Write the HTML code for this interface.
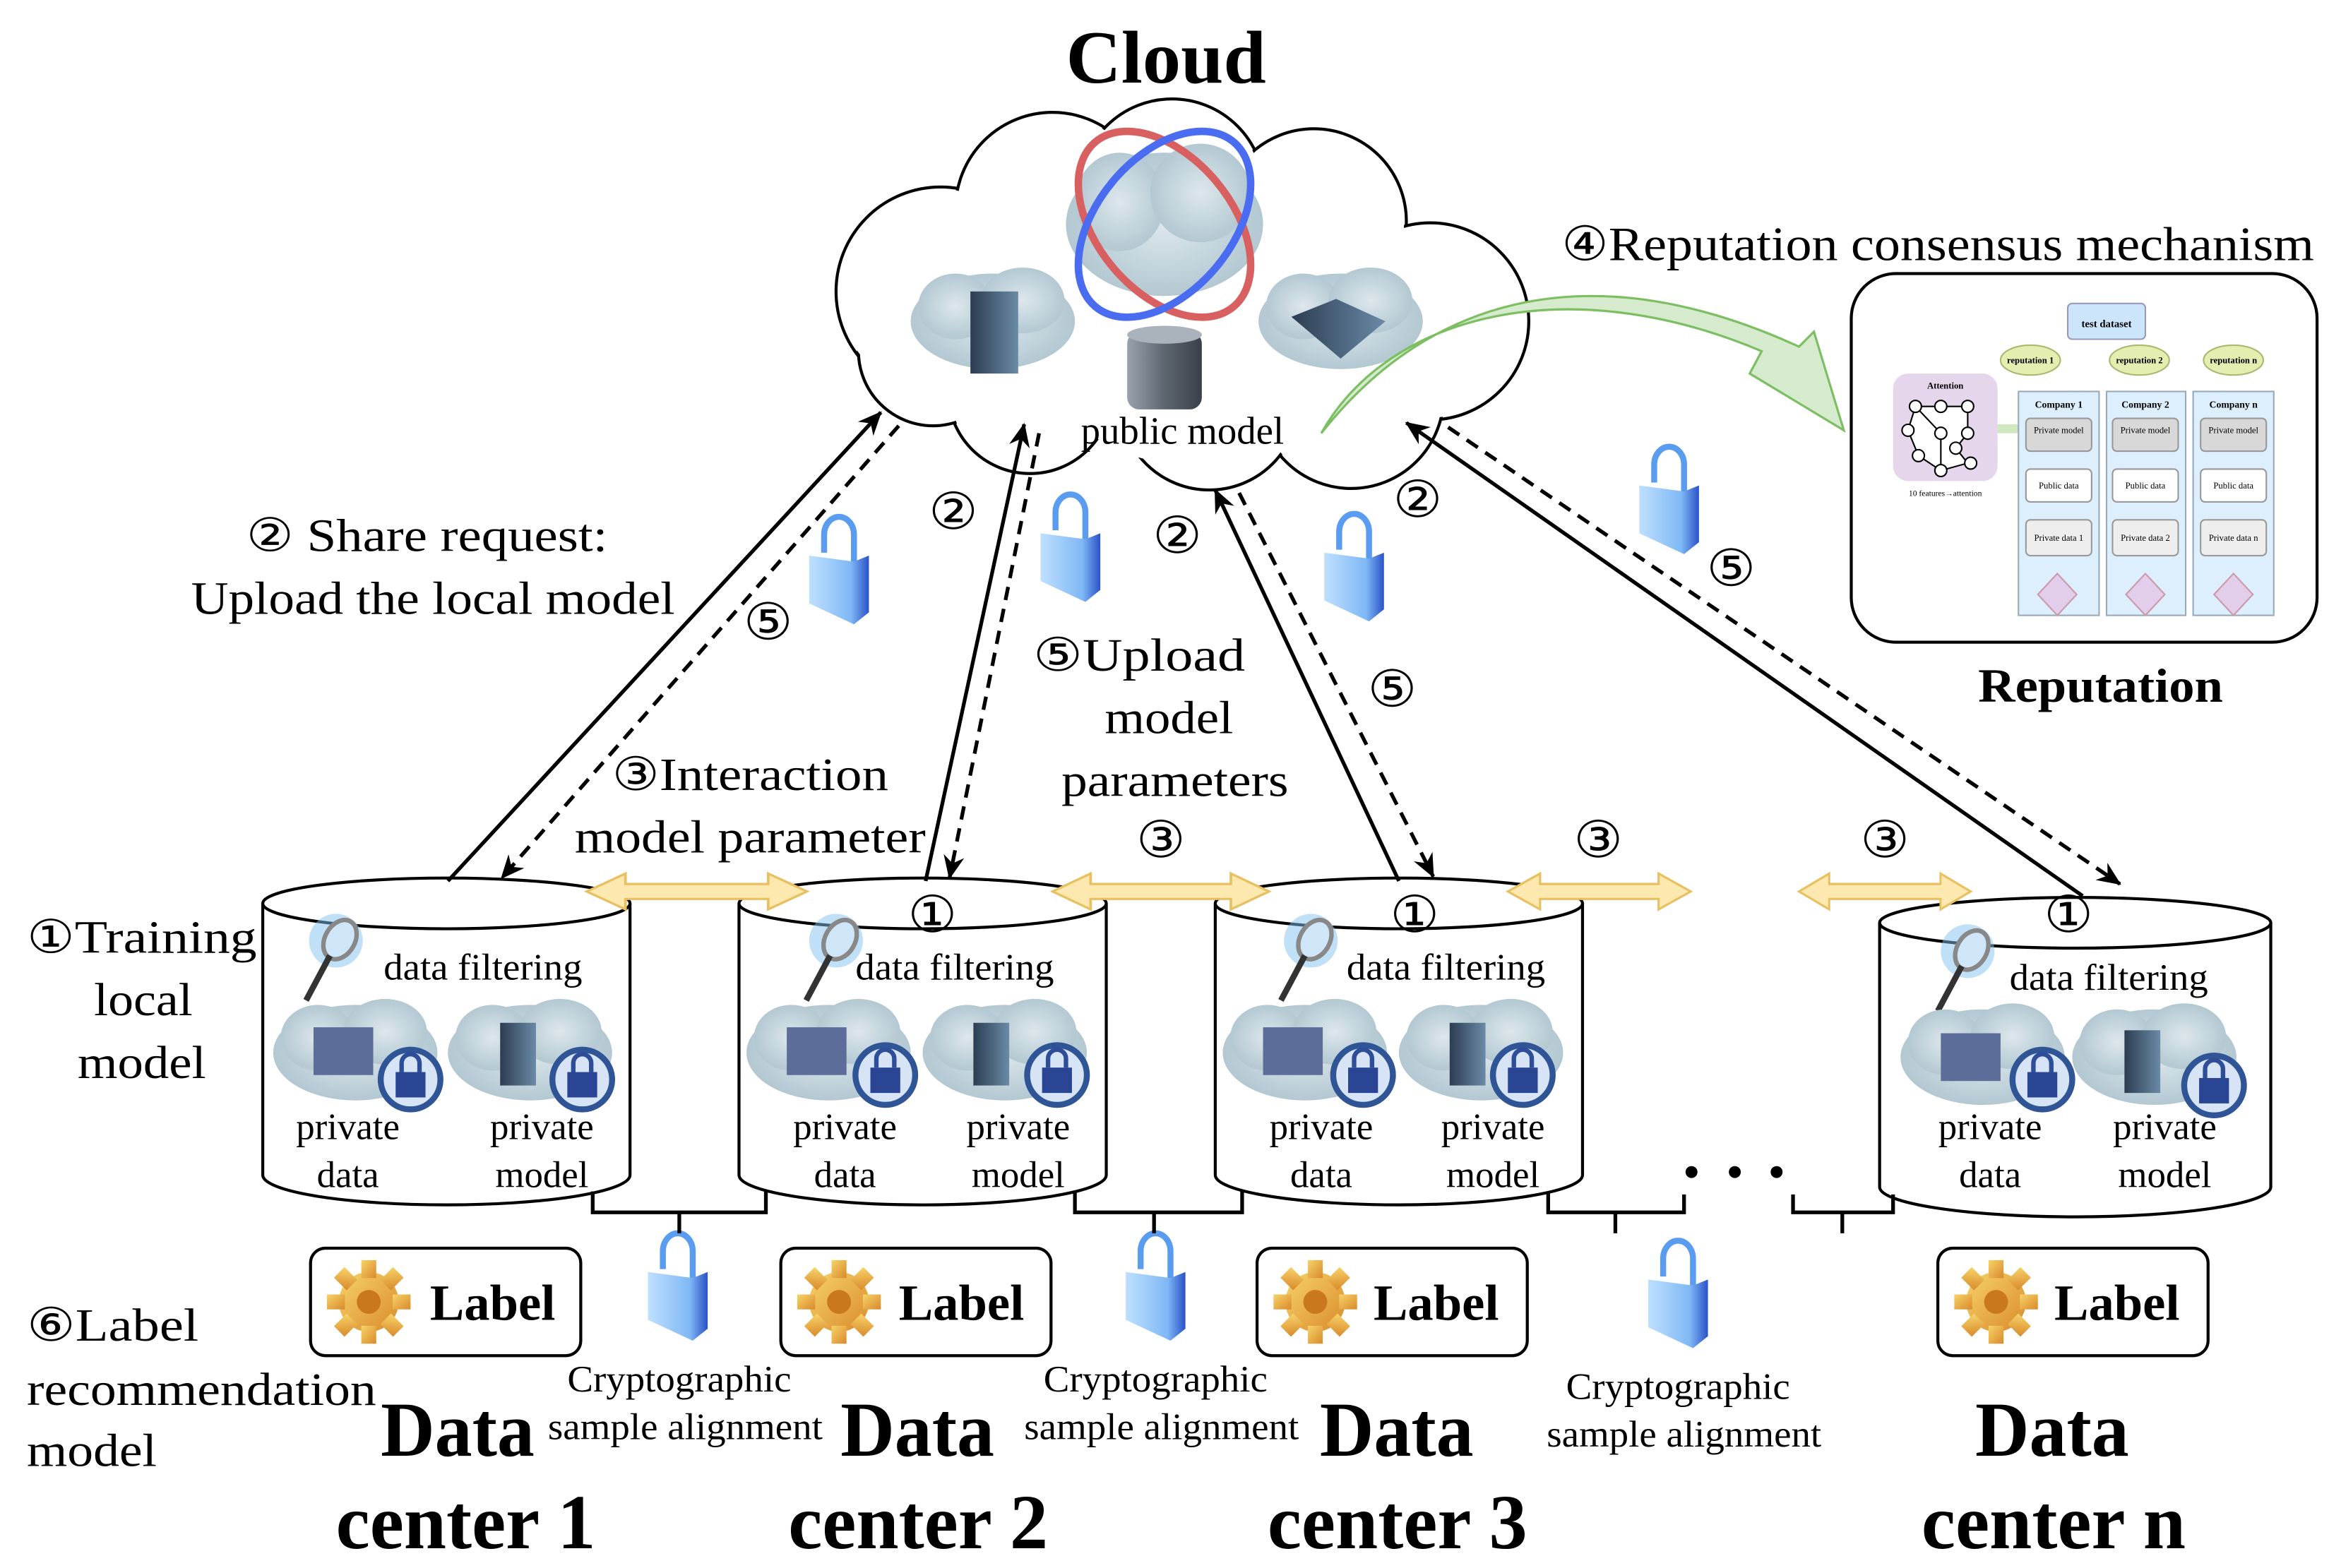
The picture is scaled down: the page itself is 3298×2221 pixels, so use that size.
<!DOCTYPE html>
<html><head><meta charset="utf-8"><style>
html,body{margin:0;padding:0;background:#fff;}
svg{display:block;}
text{font-family:"Liberation Serif",serif;fill:#000;}
</style></head><body>
<svg width="3298" height="2221" viewBox="0 0 1560 1050" xmlns="http://www.w3.org/2000/svg">
<defs>
<marker id="ah2" markerWidth="16" markerHeight="16" refX="15" refY="8" orient="auto" markerUnits="userSpaceOnUse" viewBox="0 0 16 16">
<path d="M0,1 L16,8 L0,15 L5,8 z" fill="#000"/></marker>
<radialGradient id="cl" cx="50%" cy="50%" r="50%"><stop offset="0" stop-color="#dde7ec"/><stop offset="1" stop-color="#b3c8d2"/></radialGradient>
<linearGradient id="gear" x1="0" y1="0" x2="1" y2="1"><stop offset="0" stop-color="#f7d36a"/><stop offset="1" stop-color="#d98a2a"/></linearGradient>
<linearGradient id="lk" x1="0" y1="0" x2="1" y2="0"><stop offset="0" stop-color="#bfe0ff"/><stop offset="0.7" stop-color="#7fb8f5"/><stop offset="1" stop-color="#2a52c8"/></linearGradient>
<linearGradient id="srv" x1="0" y1="0" x2="1" y2="0"><stop offset="0" stop-color="#2c3d52"/><stop offset="1" stop-color="#6a8aa6"/></linearGradient>
<linearGradient id="db" x1="0" y1="0" x2="1" y2="0"><stop offset="0" stop-color="#9aa3ad"/><stop offset="0.5" stop-color="#5d6670"/><stop offset="1" stop-color="#3a4049"/></linearGradient>
<g id="blob"><ellipse cx="0" cy="0" rx="55" ry="32" fill="url(#cl)"/><ellipse cx="-25" cy="-10" rx="25" ry="22" fill="url(#cl)"/><ellipse cx="20" cy="-14" rx="28" ry="22" fill="url(#cl)"/></g>
<g id="lockc"><circle r="20" fill="#d6e4f5" stroke="#2f5597" stroke-width="4"/><path d="M-6,-5 v-6 a6,6 0 0 1 12,0 v6" fill="none" stroke="#2f4e9a" stroke-width="3"/><rect x="-10" y="-5" width="20" height="17" fill="#2b4595"/></g>
<g id="padlock"><path d="M-10,-10 v-12 a10,12 0 0 1 20,0 v18" fill="none" stroke="#5a9cf0" stroke-width="4"/><path d="M-20,-8 L10,-4 L20,-8 L20,30 L10,38 L-20,24 z" fill="url(#lk)"/></g>
<g id="gearI"><circle r="20" fill="url(#gear)"/><g fill="url(#gear)"><rect x="-5" y="-28" width="10" height="12"/><rect x="-5" y="16" width="10" height="12"/><rect x="-28" y="-5" width="12" height="10"/><rect x="16" y="-5" width="12" height="10"/><rect x="-5" y="-28" width="10" height="12" transform="rotate(45)"/><rect x="-5" y="16" width="10" height="12" transform="rotate(45)"/><rect x="-28" y="-5" width="12" height="10" transform="rotate(45)"/><rect x="16" y="-5" width="12" height="10" transform="rotate(45)"/></g><circle r="8" fill="#c9781e"/></g>
<g id="mag"><circle cx="0" cy="0" r="18" fill="#7fc2f0" opacity="0.5"/><ellipse cx="2" cy="-2" rx="10" ry="14" fill="#cfe6f8" stroke="#888" stroke-width="3" transform="rotate(30)"/><line x1="-4" y1="10" x2="-20" y2="40" stroke="#333" stroke-width="4"/></g>
<g id="dblarr"><path d="M0,0 L22,-12 L22,-5 L103,-5 L103,-12 L125,0 L103,12 L103,5 L22,5 L22,12 z" fill="#fde9b0" stroke="#e8c060" stroke-width="1.5"/></g>
</defs>

<text x="714" y="55" font-size="50" font-weight="bold" textLength="134" lengthAdjust="spacingAndGlyphs">Cloud</text>

<g stroke="#000" stroke-width="2" fill="#fff">
<circle cx="630" cy="195" r="70"/><circle cx="705" cy="140" r="65"/><circle cx="785" cy="128" r="62"/><circle cx="880" cy="148" r="62"/><circle cx="958" cy="215" r="66"/><circle cx="905" cy="265" r="62"/><circle cx="810" cy="268" r="60"/><circle cx="690" cy="262" r="55"/><circle cx="625" cy="235" r="50"/>
</g>
<g fill="#fff">
<circle cx="630" cy="195" r="68.5"/><circle cx="705" cy="140" r="63.5"/><circle cx="785" cy="128" r="60.5"/><circle cx="880" cy="148" r="60.5"/><circle cx="958" cy="215" r="64.5"/><circle cx="905" cy="265" r="60.5"/><circle cx="810" cy="268" r="58.5"/><circle cx="690" cy="262" r="53.5"/><circle cx="625" cy="235" r="48.5"/><circle cx="790" cy="210" r="100"/>
</g>
<use href="#blob" transform="translate(780,150) scale(1.2,1.5)"/>
<ellipse cx="780" cy="150" rx="45" ry="72" fill="none" stroke="#d86060" stroke-width="5" transform="rotate(-40 780 150)"/>
<ellipse cx="780" cy="150" rx="45" ry="72" fill="none" stroke="#4a6cf0" stroke-width="5" transform="rotate(40 780 150)"/>
<use href="#blob" transform="translate(665,215)"/>
<rect x="650" y="195" width="32" height="55" fill="url(#srv)"/>
<use href="#blob" transform="translate(898,215)"/>
<path d="M865,212 L895,200 L928,215 L898,240 z" fill="url(#srv)"/>
<rect x="755" y="222" width="50" height="52" rx="8" fill="url(#db)"/>
<ellipse cx="780" cy="224" rx="25" ry="6" fill="#aab2bb"/>
<text x="724" y="297" font-size="26" textLength="136" lengthAdjust="spacingAndGlyphs">public model</text>

<path d="M885,290 C930,210 1050,180 1180,235 L1172,250 L1235,288 L1215,222 L1205,232 C1070,170 960,195 885,290 z" fill="#d6ebcd" stroke="#7cbf62" stroke-width="1.5"/>
<text x="1046" y="174" font-size="32" textLength="504" lengthAdjust="spacingAndGlyphs">④Reputation consensus mechanism</text>

<rect x="1240" y="183" width="312" height="247" rx="30" fill="#fff" stroke="#000" stroke-width="2"/>
<rect x="1385" y="203" width="52" height="24" rx="3" fill="#cde5fb" stroke="#99b"/>
<text x="1411" y="219" font-size="7" text-anchor="middle" font-weight="bold">test dataset</text>
<g fill="#e3eeb0" stroke="#aab870"><ellipse cx="1360" cy="241" rx="20" ry="10"/><ellipse cx="1433" cy="241" rx="20" ry="10"/><ellipse cx="1496" cy="241" rx="20" ry="10"/></g>
<g font-size="6" text-anchor="middle" font-weight="bold"><text x="1360" y="243">reputation 1</text><text x="1433" y="243">reputation 2</text><text x="1496" y="243">reputation n</text></g>
<rect x="1268" y="250" width="70" height="72" rx="10" fill="#e6d6ec"/>
<text x="1303" y="260" font-size="6" text-anchor="middle" font-weight="bold">Attention</text>
<text x="1303" y="332" font-size="5.5" text-anchor="middle">10 features→attention</text>
<g stroke="#000" stroke-width="1" fill="#fff"><path d="M1283,272 L1300,272 L1318,272 L1318,290 L1310,300 L1318,310 L1300,315 L1285,305 L1278,288 L1283,272 L1300,290 L1300,315"/><circle cx="1283" cy="272" r="4"/><circle cx="1300" cy="272" r="4"/><circle cx="1318" cy="272" r="4"/><circle cx="1278" cy="288" r="4"/><circle cx="1300" cy="290" r="4"/><circle cx="1318" cy="290" r="4"/><circle cx="1310" cy="300" r="4"/><circle cx="1285" cy="305" r="4"/><circle cx="1300" cy="315" r="4"/><circle cx="1320" cy="310" r="4"/></g>
<rect x="1338" y="284" width="14" height="6" fill="#cfe8c0"/>
<g fill="#ddeffc" stroke="#9ab"><rect x="1352" y="262" width="54" height="150"/><rect x="1411" y="262" width="53" height="150"/><rect x="1469" y="262" width="54" height="150"/></g>
<g font-size="6.5" text-anchor="middle" font-weight="bold"><text x="1379" y="273">Company 1</text><text x="1437" y="273">Company 2</text><text x="1496" y="273">Company n</text></g>
<g fill="#d8d8d8" stroke="#999"><rect x="1357" y="280" width="44" height="22" rx="3"/><rect x="1415" y="280" width="44" height="22" rx="3"/><rect x="1474" y="280" width="44" height="22" rx="3"/></g>
<g fill="#fff" stroke="#999"><rect x="1357" y="314" width="44" height="22" rx="3"/><rect x="1415" y="314" width="44" height="22" rx="3"/><rect x="1474" y="314" width="44" height="22" rx="3"/></g>
<g fill="#eee" stroke="#999"><rect x="1357" y="348" width="44" height="24" rx="3"/><rect x="1415" y="348" width="44" height="24" rx="3"/><rect x="1474" y="348" width="44" height="24" rx="3"/></g>
<g font-size="6" text-anchor="middle"><text x="1379" y="290">Private model</text><text x="1437" y="290">Private model</text><text x="1496" y="290">Private model</text><text x="1379" y="327">Public data</text><text x="1437" y="327">Public data</text><text x="1496" y="327">Public data</text><text x="1379" y="362">Private data 1</text><text x="1437" y="362">Private data 2</text><text x="1496" y="362">Private data n</text></g>
<g fill="#e2cdea" stroke="#c9a"><path d="M1378,384 L1391,398 L1378,412 L1365,398 z"/><path d="M1437,384 L1450,398 L1437,412 L1424,398 z"/><path d="M1496,384 L1509,398 L1496,412 L1483,398 z"/></g>
<text x="1325" y="470" font-size="32" font-weight="bold" textLength="164" lengthAdjust="spacingAndGlyphs">Reputation</text>

<g stroke="#000" stroke-width="2" fill="#fff">
<path d="M176,605 L176,787 A123,20 0 0 0 422,787 L422,605"/><ellipse cx="299" cy="605" rx="123" ry="17"/>
<path d="M495,605 L495,787 A123,20 0 0 0 741,787 L741,605"/><ellipse cx="618" cy="605" rx="123" ry="17"/>
<path d="M814,605 L814,787 A123,20 0 0 0 1060,787 L1060,605"/><ellipse cx="937" cy="605" rx="123" ry="17"/>
<path d="M1259,618 L1259,795 A131,20 0 0 0 1521,795 L1521,618"/><ellipse cx="1390" cy="618" rx="131" ry="17"/>
</g>

<g font-size="25">
<use href="#mag" transform="translate(225,630)"/><text x="257" y="656" textLength="133" lengthAdjust="spacingAndGlyphs">data filtering</text>
<use href="#blob" transform="translate(238,705)"/><rect x="210" y="688" width="40" height="32" fill="#5b6d98"/><use href="#blob" transform="translate(355,705)"/><rect x="335" y="685" width="24" height="42" fill="url(#srv)"/>
<use href="#lockc" transform="translate(275,723)"/><use href="#lockc" transform="translate(390,723)"/>
<text x="233" y="763" text-anchor="middle">private</text><text x="233" y="795" text-anchor="middle">data</text><text x="363" y="763" text-anchor="middle">private</text><text x="363" y="795" text-anchor="middle">model</text>

<use href="#mag" transform="translate(560,630)"/><text x="573" y="656" textLength="133" lengthAdjust="spacingAndGlyphs">data filtering</text>
<use href="#blob" transform="translate(555,705)"/><rect x="527" y="688" width="40" height="32" fill="#5b6d98"/><use href="#blob" transform="translate(673,705)"/><rect x="652" y="685" width="24" height="42" fill="url(#srv)"/>
<use href="#lockc" transform="translate(593,720)"/><use href="#lockc" transform="translate(708,720)"/>
<text x="566" y="763" text-anchor="middle">private</text><text x="566" y="795" text-anchor="middle">data</text><text x="682" y="763" text-anchor="middle">private</text><text x="682" y="795" text-anchor="middle">model</text>

<use href="#mag" transform="translate(878,630)"/><text x="902" y="656" textLength="133" lengthAdjust="spacingAndGlyphs">data filtering</text>
<use href="#blob" transform="translate(874,705)"/><rect x="846" y="688" width="40" height="32" fill="#5b6d98"/><use href="#blob" transform="translate(992,705)"/><rect x="971" y="685" width="24" height="42" fill="url(#srv)"/>
<use href="#lockc" transform="translate(913,720)"/><use href="#lockc" transform="translate(1020,720)"/>
<text x="885" y="763" text-anchor="middle">private</text><text x="885" y="795" text-anchor="middle">data</text><text x="1000" y="763" text-anchor="middle">private</text><text x="1000" y="795" text-anchor="middle">model</text>

<use href="#mag" transform="translate(1318,637)"/><text x="1346" y="663" textLength="133" lengthAdjust="spacingAndGlyphs">data filtering</text>
<use href="#blob" transform="translate(1328,708)"/><rect x="1300" y="692" width="40" height="32" fill="#5b6d98"/><use href="#blob" transform="translate(1443,708)"/><rect x="1423" y="690" width="24" height="42" fill="url(#srv)"/>
<use href="#lockc" transform="translate(1368,723)"/><use href="#lockc" transform="translate(1483,727)"/>
<text x="1333" y="763" text-anchor="middle">private</text><text x="1333" y="795" text-anchor="middle">data</text><text x="1450" y="763" text-anchor="middle">private</text><text x="1450" y="795" text-anchor="middle">model</text>
</g>

<use href="#dblarr" transform="translate(393,597) scale(1.18,1)"/>
<use href="#dblarr" transform="translate(705,597) scale(1.16,1)"/>
<use href="#dblarr" transform="translate(1010,597) scale(0.98,1)"/>
<use href="#dblarr" transform="translate(1205,597) scale(0.92,1)"/>

<g stroke="#000" stroke-width="2.5" fill="none">
<line x1="300" y1="590" x2="590" y2="276" marker-end="url(#ah2)"/>
<line x1="620" y1="590" x2="686" y2="284" marker-end="url(#ah2)"/>
<line x1="937" y1="590" x2="814" y2="328" marker-end="url(#ah2)"/>
<line x1="1395" y1="600" x2="942" y2="283" marker-end="url(#ah2)"/>
</g>
<g stroke="#000" stroke-width="2.5" fill="none" stroke-dasharray="9,6">
<line x1="602" y1="285" x2="336" y2="588" marker-end="url(#ah2)"/>
<line x1="696" y1="290" x2="636" y2="588" marker-end="url(#ah2)"/>
<line x1="830" y1="330" x2="960" y2="587" marker-end="url(#ah2)"/>
<line x1="970" y1="286" x2="1420" y2="592" marker-end="url(#ah2)"/>
</g>

<g font-size="31">
<text x="165" y="369" textLength="242" lengthAdjust="spacingAndGlyphs">② Share request:</text>
<text x="128" y="411" textLength="324" lengthAdjust="spacingAndGlyphs">Upload the local model</text>
<text x="410" y="529" textLength="185" lengthAdjust="spacingAndGlyphs">③Interaction</text>
<text x="385" y="571" textLength="235" lengthAdjust="spacingAndGlyphs">model parameter</text>
<text x="692" y="449" textLength="142" lengthAdjust="spacingAndGlyphs">⑤Upload</text>
<text x="740" y="491" textLength="86" lengthAdjust="spacingAndGlyphs">model</text>
<text x="711" y="533" textLength="152" lengthAdjust="spacingAndGlyphs">parameters</text>
<text x="18" y="638" textLength="154" lengthAdjust="spacingAndGlyphs">①Training</text>
<text x="63" y="680" textLength="66" lengthAdjust="spacingAndGlyphs">local</text>
<text x="52" y="722" textLength="86" lengthAdjust="spacingAndGlyphs">model</text>
<text x="18" y="898" textLength="115" lengthAdjust="spacingAndGlyphs">⑥Label</text>
<text x="18" y="941" textLength="234" lengthAdjust="spacingAndGlyphs">recommendation</text>
<text x="18" y="982" textLength="87" lengthAdjust="spacingAndGlyphs">model</text>
</g>
<g font-size="34">
<text x="498" y="428" textLength="33" lengthAdjust="spacingAndGlyphs">⑤</text>
<text x="622" y="354" textLength="33" lengthAdjust="spacingAndGlyphs">②</text>
<text x="772" y="370" textLength="33" lengthAdjust="spacingAndGlyphs">②</text>
<text x="933" y="346" textLength="33" lengthAdjust="spacingAndGlyphs">②</text>
<text x="916" y="473" textLength="33" lengthAdjust="spacingAndGlyphs">⑤</text>
<text x="1143" y="392" textLength="33" lengthAdjust="spacingAndGlyphs">⑤</text>
<text x="761" y="574" textLength="33" lengthAdjust="spacingAndGlyphs">③</text>
<text x="1054" y="574" textLength="33" lengthAdjust="spacingAndGlyphs">③</text>
<text x="1246" y="574" textLength="33" lengthAdjust="spacingAndGlyphs">③</text>
<text x="608" y="624" textLength="33" lengthAdjust="spacingAndGlyphs">①</text>
<text x="931" y="624" textLength="33" lengthAdjust="spacingAndGlyphs">①</text>
<text x="1369" y="624" textLength="33" lengthAdjust="spacingAndGlyphs">①</text>
</g>

<use href="#padlock" transform="translate(562,380)"/>
<use href="#padlock" transform="translate(717,365)"/>
<use href="#padlock" transform="translate(907,378)"/>
<use href="#padlock" transform="translate(1118,333)"/>
<use href="#padlock" transform="translate(454,860)"/>
<use href="#padlock" transform="translate(774,860)"/>
<use href="#padlock" transform="translate(1124,865)"/>

<g stroke="#000" stroke-width="2.5" fill="none">
<path d="M397,798 V812 H513 V798 M455,812 V826"/>
<path d="M720,798 V812 H832 V798 M773,812 V826"/>
<path d="M1037,798 V812 H1128 V800 M1082,812 V826"/>
<path d="M1201,800 V812 H1268 V800 M1234,812 V826"/>
</g>
<g fill="#000"><circle cx="1133" cy="785" r="4"/><circle cx="1162" cy="785" r="4"/><circle cx="1190" cy="785" r="4"/></g>

<g fill="#fff" stroke="#000" stroke-width="2">
<rect x="208" y="836" width="181" height="72" rx="10"/>
<rect x="523" y="836" width="181" height="72" rx="10"/>
<rect x="842" y="836" width="181" height="72" rx="10"/>
<rect x="1298" y="836" width="181" height="72" rx="10"/>
</g>
<use href="#gearI" transform="translate(247,872)"/><use href="#gearI" transform="translate(562,872)"/><use href="#gearI" transform="translate(881,872)"/><use href="#gearI" transform="translate(1337,872)"/>
<g font-size="34" font-weight="bold">
<text x="288" y="884" textLength="84" lengthAdjust="spacingAndGlyphs">Label</text><text x="602" y="884" textLength="84" lengthAdjust="spacingAndGlyphs">Label</text><text x="920" y="884" textLength="84" lengthAdjust="spacingAndGlyphs">Label</text><text x="1376" y="884" textLength="84" lengthAdjust="spacingAndGlyphs">Label</text>
</g>

<g font-size="25">
<text x="380" y="932" textLength="150" lengthAdjust="spacingAndGlyphs">Cryptographic</text><text x="367" y="964" textLength="184" lengthAdjust="spacingAndGlyphs">sample alignment</text>
<text x="699" y="932" textLength="150" lengthAdjust="spacingAndGlyphs">Cryptographic</text><text x="686" y="964" textLength="184" lengthAdjust="spacingAndGlyphs">sample alignment</text>
<text x="1049" y="937" textLength="150" lengthAdjust="spacingAndGlyphs">Cryptographic</text><text x="1036" y="969" textLength="184" lengthAdjust="spacingAndGlyphs">sample alignment</text>
</g>

<g font-size="52" font-weight="bold">
<text x="255" y="975" textLength="103" lengthAdjust="spacingAndGlyphs">Data</text>
<text x="225" y="1037" textLength="174" lengthAdjust="spacingAndGlyphs">center 1</text>
<text x="563" y="975" textLength="103" lengthAdjust="spacingAndGlyphs">Data</text>
<text x="528" y="1037" textLength="174" lengthAdjust="spacingAndGlyphs">center 2</text>
<text x="884" y="975" textLength="103" lengthAdjust="spacingAndGlyphs">Data</text>
<text x="849" y="1037" textLength="174" lengthAdjust="spacingAndGlyphs">center 3</text>
<text x="1323" y="975" textLength="103" lengthAdjust="spacingAndGlyphs">Data</text>
<text x="1287" y="1037" textLength="177" lengthAdjust="spacingAndGlyphs">center n</text>
</g>
</svg>
</body></html>
